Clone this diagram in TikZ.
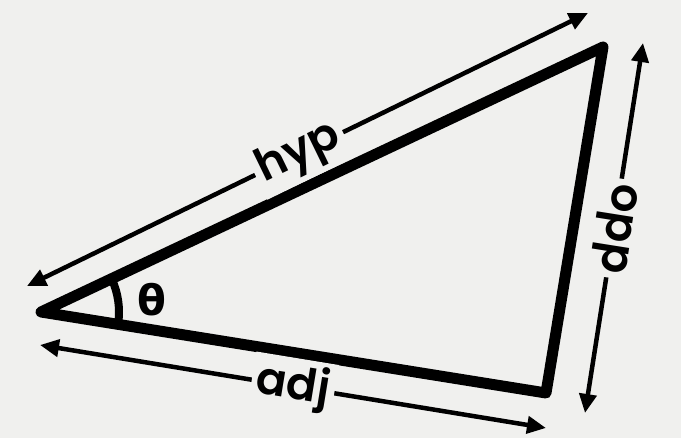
\documentclass[tikz,border=0pt]{standalone}
\usepackage{fontspec}
\setmainfont{Poppins}[BoldFont={Poppins SemiBold}]
\newfontfamily\greekfont{DejaVu Sans}
\usetikzlibrary{arrows.meta}
\definecolor{paper}{RGB}{240,240,238}
\tikzset{
  side/.style={line width=11pt, line join=round, line cap=round},
  measure/.style={line width=4.5pt, {Triangle[length=19pt,width=17pt]}-{Triangle[length=19pt,width=17pt]}},
  lbl/.style={font=\fontsize{45}{45}\selectfont\bfseries, fill=paper, inner sep=5pt},
}
\begin{document}
\begin{tikzpicture}[x=1pt,y=1pt]
\fill[paper] (0,0) rectangle (681,438);
\useasboundingbox (0,0) rectangle (681,438);
% vertices
\coordinate (A) at (41,126);
\coordinate (B) at (603,391);
\coordinate (C) at (546,45);
% measure ends
\coordinate (h1) at (27,152);
\coordinate (h2) at (588,425);
\coordinate (a1) at (40,93);
\coordinate (a2) at (546,10);
\coordinate (o1) at (643,395);
\coordinate (o2) at (585,25);
% triangle
\draw[side] (A) -- (B) -- (C) -- cycle;
% angle arc
\draw[line width=8pt] ([shift={(-9.1:78)}]A) arc[start angle=-9.1, end angle=25.2, radius=78];
\node[font=\greekfont\fontsize{42}{42}\selectfont\bfseries] (th) at (152,138) {θ};
% measures
\draw[measure] (h1) -- node[lbl, sloped, pos=0.485] (hyp) {hyp} (h2);
\draw[measure] (a1) -- node[lbl, sloped, pos=0.5] (adj) {adj} (a2);
\draw[measure] (o1) -- node[lbl, pos=0.5, rotate=-99] (opp) {opp} (o2);
\end{tikzpicture}
\end{document}
